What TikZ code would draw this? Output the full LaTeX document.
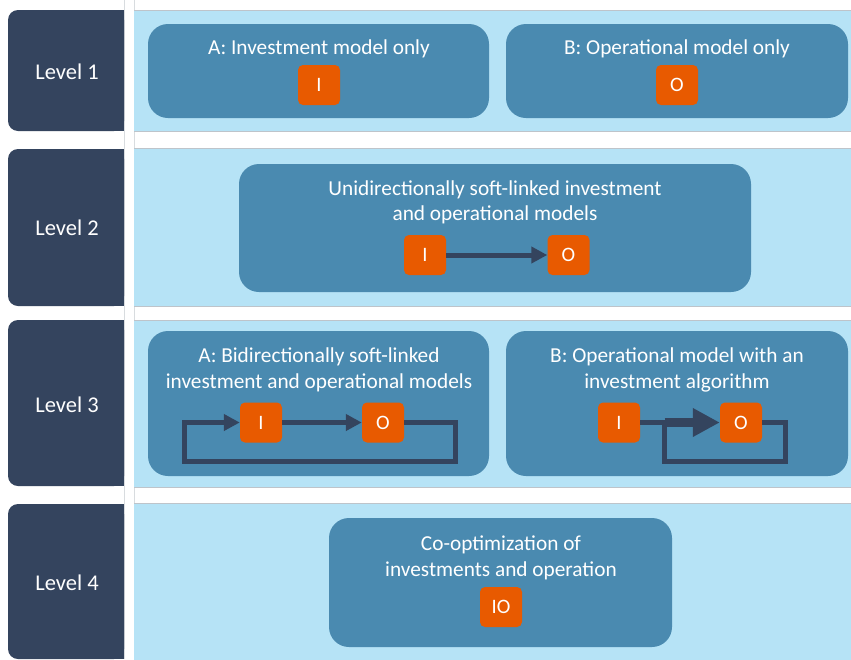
\documentclass[tikz,border=0pt]{standalone}
\usepackage{fontspec}
\setmainfont{Carlito}
\usepackage{xcolor}
\usepackage{tikz}
\usetikzlibrary{calc}
\usetikzlibrary{arrows.meta}
\definecolor{navy}{RGB}{52,68,94}
\definecolor{bandblue}{RGB}{182,227,246}
\definecolor{boxblue}{RGB}{74,138,176}
\definecolor{ioorange}{RGB}{232,90,0}
\definecolor{gridgray}{RGB}{190,196,202}

\begin{document}
\begin{tikzpicture}[x=1pt, y=-1pt,
    modelbox/.style={fill=boxblue, rounded corners=20pt, inner sep=0pt},
    iobox/.style={fill=ioorange, rounded corners=5pt, minimum width=42pt, minimum height=40pt, inner sep=0pt, text=white, font=\fontsize{20.5}{23}\selectfont},
    title/.style={text=white, align=center, font=\fontsize{21.3}{25.5}\selectfont},
    leveltext/.style={text=white, font=\fontsize{22.5}{26}\selectfont},
    link/.style={draw=navy, line width=5pt, line join=miter, -{Triangle[length=16pt,width=16pt]}},
    loop/.style={draw=navy, line width=5pt, line join=miter}]
    \useasboundingbox (0,0) rectangle (851,659);
    \fill[white] (0,0) rectangle (851,659);
    \draw[gridgray!60] (124.5,0) -- (124.5,659);
    \draw[gridgray!60] (134,0) -- (134,659);

    \foreach \top/\bot in {10/131, 148/306, 320/487, 503/670} {
        \fill[bandblue] (134,\top) rectangle (851,\bot);
        \draw[gridgray] (134,\top) -- (851,\top);
        \draw[gridgray] (134,\bot) -- (851,\bot);
    }
    \foreach \lv/\top/\bot/\mid in {1/10/131/72, 2/149/306/228, 3/320/486/405, 4/504/659/583} {
        \fill[navy, rounded corners=10pt] (8,\top) rectangle (124,\bot);
        \fill[navy] (60,\top) rectangle (124,\bot);
        \node[leveltext] (level\lv) at (67,\mid) {Level \lv};
    }

    % Level 1
    \node[modelbox, minimum width=341pt, minimum height=94pt] (oneA) at (318.5,71) {};
    \node[modelbox, minimum width=342pt, minimum height=94pt] (oneB) at (677,71) {};
    \node[title] (oneAtext) at (319,48.5) {A: Investment model only};
    \node[title] (oneBtext) at (677,48.5) {B: Operational model only};
    \node[iobox] (oneI) at (319,85) {I};
    \node[iobox] (oneO) at (677,85) {O};

    % Level 2
    \node[modelbox, minimum width=512pt, minimum height=128pt] (two) at (495,228) {};
    \node[title] (twotext) at (495,202.5) {Unidirectionally soft-linked investment\\and operational models};
    \node[iobox] (twoI) at (425,255) {I};
    \node[iobox] (twoO) at (568.5,255) {O};
    \draw[link] (twoI) -- (twoO);

    % Level 3
    \node[modelbox, minimum width=341pt, minimum height=145pt] (threeA) at (318.5,403.5) {};
    \node[modelbox, minimum width=342pt, minimum height=145pt] (threeB) at (677,403.5) {};
    \node[title] (threeAtext) at (319,370) {A: Bidirectionally soft-linked\\investment and operational models};
    \node[title] (threeBtext) at (677,370) {B: Operational model with an\\investment algorithm};
    \node[iobox] (threeAI) at (261,422.5) {I};
    \node[iobox] (threeAO) at (383,422.5) {O};
    \node[iobox] (threeBI) at (619,422.5) {I};
    \node[iobox] (threeBO) at (741,422.5) {O};
    \coordinate (loopAright) at (455,461);
    \coordinate (loopAleft) at (184.5,461);
    \draw[link] (threeAI) -- (threeAO);
    \draw[link] (threeAO.east) -| (loopAright) -- (loopAleft) |- (threeAI.west);
    \coordinate (splitB) at (664.5,422.5);
    \coordinate (loopBright) at (785,461);
    \draw[loop] (threeBI.east) -- (splitB);
    \draw[loop] (threeBO.east) -| (loopBright) -| (splitB);
    \draw[navy, line width=9pt, -{Triangle[length=27pt,width=27pt]}] (splitB) -- (threeBO.west);

    % Level 4
    \node[modelbox, minimum width=343pt, minimum height=129pt] (four) at (500.5,582.5) {};
    \node[title] (fourtext) at (501,558) {Co-optimization of\\investments and operation};
    \node[iobox] (fourIO) at (501,607) {IO};
\end{tikzpicture}
\end{document}
